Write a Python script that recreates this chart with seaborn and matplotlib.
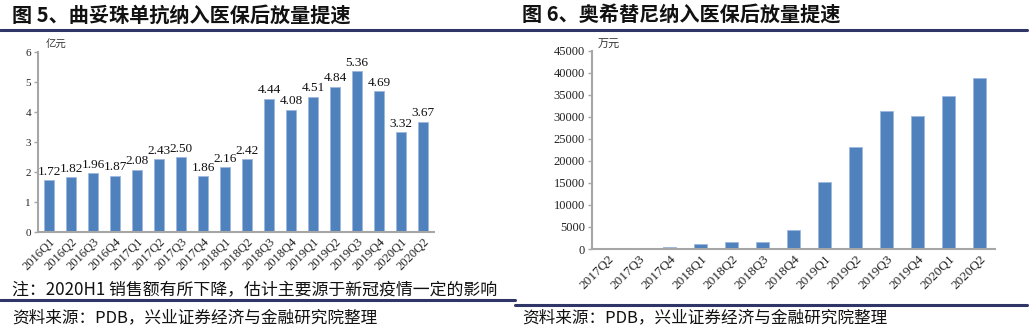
import matplotlib
matplotlib.use("Agg")
import matplotlib.pyplot as plt
from matplotlib.lines import Line2D
import seaborn as sns
import pandas as pd

# ---------------- data ----------------
left_quarters = ["2016Q1", "2016Q2", "2016Q3", "2016Q4", "2017Q1", "2017Q2", "2017Q3", "2017Q4",
                 "2018Q1", "2018Q2", "2018Q3", "2018Q4", "2019Q1", "2019Q2", "2019Q3", "2019Q4",
                 "2020Q1", "2020Q2"]
left_values = [1.72, 1.82, 1.96, 1.87, 2.08, 2.43, 2.50, 1.86, 2.16, 2.42, 4.44, 4.08, 4.51, 4.84,
               5.36, 4.69, 3.32, 3.67]
left_yticks = [0, 1, 2, 3, 4, 5, 6]

right_quarters = ["2017Q2", "2017Q3", "2017Q4", "2018Q1", "2018Q2", "2018Q3", "2018Q4", "2019Q1",
                  "2019Q2", "2019Q3", "2019Q4", "2020Q1", "2020Q2"]
right_values = [50, 300, 500, 1100, 1650, 1650, 4300, 15100, 23200, 31300, 30200, 34800, 38800]
right_yticks = [0, 5000, 10000, 15000, 20000, 25000, 30000, 35000, 40000, 45000]

title_left = "图 5、曲妥珠单抗纳入医保后放量提速"
title_right = "图 6、奥希替尼纳入医保后放量提速"
unit_left = "亿元"
unit_right = "万元"
note_left = "注：2020H1 销售额有所下降，估计主要源于新冠疫情一定的影响"
source_text = "资料来源：PDB，兴业证券经济与金融研究院整理"

# ---------------- style ----------------
sns.set_theme(style="white")
plt.rcParams['font.family'] = ['Noto Sans CJK SC', 'DejaVu Sans']
SERIF = ['Liberation Serif', 'DejaVu Serif']
BAR = "#4F81BD"
NAVY = "#2F3566"
GREY = "#A6A6A6"

W, H = 1031, 331
fig = plt.figure(figsize=(W / 100, H / 100), dpi=100)
fig.patch.set_facecolor("white")


def px_axes(x0, y_top, x1, y_bot):
    return fig.add_axes([x0 / W, (H - y_bot) / H, (x1 - x0) / W, (y_bot - y_top) / H])


def hline(x0, x1, y, lw=2.2):
    fig.add_artist(Line2D([x0 / W, x1 / W], [(H - y) / H, (H - y) / H],
                          transform=fig.transFigure, color=NAVY, lw=lw))


def style_axes(ax, yticks, ylim, n, tick_fs, xlab_fs):
    ax.set_ylim(*ylim)
    ax.set_xlim(-0.5, n - 0.5)
    ax.set_yticks(yticks)
    ax.set_yticklabels([str(v) for v in yticks], family=SERIF, fontsize=tick_fs, color="#222222")
    for lab in ax.get_xticklabels():
        lab.set_rotation(45)
        lab.set_ha("right")
        lab.set_va("top")
        lab.set_rotation_mode("anchor")
        lab.set_family(SERIF)
        lab.set_fontsize(xlab_fs)
        lab.set_color("#222222")
    ax.set_xlabel("")
    ax.set_ylabel("")
    for s in ["top", "right"]:
        ax.spines[s].set_visible(False)
    for s in ["left", "bottom"]:
        ax.spines[s].set_color(GREY)
        ax.spines[s].set_linewidth(1.5)
    ax.tick_params(axis="y", left=True, length=3, width=1, color=GREY, pad=2)
    ax.tick_params(axis="x", bottom=False, length=0, pad=3)
    ax.grid(False)
    ax.set_facecolor("white")


# ---------------- left chart ----------------
df_l = pd.DataFrame({"q": left_quarters, "v": left_values})
axl = px_axes(38, 52, 434, 232)
sns.barplot(data=df_l, x="q", y="v", color=BAR, width=0.42, saturation=1, ax=axl,
            edgecolor="#9DB9DD", linewidth=0.6)
style_axes(axl, left_yticks, (0, 6), len(left_quarters), 8, 9)
for i, v in enumerate(left_values):
    axl.text(i, v + 0.08, f"{v:.2f}", ha="center", va="bottom", family=SERIF, fontsize=9.5,
             color="#111111")
axl.text(0.02, 1.01, unit_left, transform=axl.transAxes, fontsize=7.5, ha="left", va="bottom",
         color="#333333")

# ---------------- right chart ----------------
df_r = pd.DataFrame({"q": right_quarters, "v": right_values})
axr = px_axes(592, 50.7, 995, 249)
sns.barplot(data=df_r, x="q", y="v", color=BAR, width=0.4, saturation=1, ax=axr,
            edgecolor="#9DB9DD", linewidth=0.6)
style_axes(axr, right_yticks, (0, 45000), len(right_quarters), 9, 9.5)
axr.text(0.015, 1.005, unit_right, transform=axr.transAxes, fontsize=8, ha="left", va="bottom",
         color="#333333", style="italic")

# ---------------- titles, lines, notes ----------------
fig.text(12 / W, 1 - 15 / H, title_left, fontsize=14.5, fontweight="bold", ha="left", va="center",
         color="#111111")
fig.text(522 / W, 1 - 15 / H, title_right, fontsize=14.5, fontweight="bold", ha="left", va="center",
         color="#111111")

hline(0, 515, 29.5)
hline(515, 1027, 29.5)
hline(0, 515, 299.5)
hline(515, 1027, 304.5)

fig.text(12 / W, 1 - 290 / H, note_left, fontsize=12.2, ha="left", va="center", color="#111111")
fig.text(12 / W, 1 - 318 / H, source_text, fontsize=12, ha="left", va="center", color="#111111")
fig.text(522 / W, 1 - 318 / H, source_text, fontsize=12, ha="left", va="center", color="#111111")

fig.savefig("out.png", dpi=100, facecolor="white")
